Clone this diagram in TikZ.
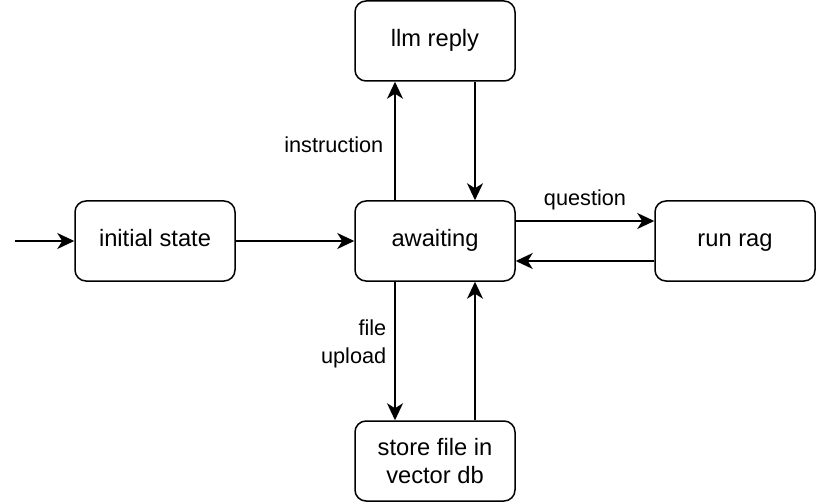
\documentclass[tikz,border=0pt]{standalone}
\usepackage{fontspec}
\setmainfont{Liberation Sans}
\usetikzlibrary{arrows.meta}
\begin{document}
\begin{tikzpicture}[x=1bp,y=-1bp,
		state/.style={draw=black,line width=1.5bp,rounded corners=11bp,minimum width=160bp,minimum height=80bp,inner sep=0pt,align=center,text height=17bp,text depth=5bp,font=\fontsize{23.7bp}{27.3bp}\selectfont},
		trans/.style={draw=black,line width=1.5bp,-{Stealth[length=17bp,width=16bp,inset=5bp]}},
		lbl/.style={inner sep=0pt,align=right,font=\fontsize{21.7bp}{28bp}\selectfont}]
		\useasboundingbox (0,0) rectangle (816,502);
		\node [state] (init) at (155,241) {initial state};
		\node [state] (await) at (435,241) {awaiting};
		\node [state] (llm) at (435,41) {llm reply};
		\node [state] (rag) at (735,241) {run rag};
		\node [state,text height=,text depth=] (store) at (435,461) {store file in\\vector db};
		\coordinate (start) at (15,241);
		\draw [trans] (start) -- (init.west);
		\draw [trans] (init.east) -- (await.west);
		\draw [trans] ([xshift=-40bp]await.north) -- node [lbl,left=11bp,pos=0.47] {instruction} ([xshift=-40bp]llm.south);
		\draw [trans] ([xshift=40bp]llm.south) -- ([xshift=40bp]await.north);
		\draw [trans] ([yshift=20bp]await.east) -- node [lbl,above=10bp] {question} ([yshift=20bp]rag.west);
		\draw [trans] ([yshift=-20bp]rag.west) -- ([yshift=-20bp]await.east);
		\draw [trans] ([xshift=-40bp]await.south) -- node [lbl,left=8bp,pos=0.45] {file\\upload} ([xshift=-40bp]store.north);
		\draw [trans] ([xshift=40bp]store.north) -- ([xshift=40bp]await.south);
	\end{tikzpicture}
\end{document}
